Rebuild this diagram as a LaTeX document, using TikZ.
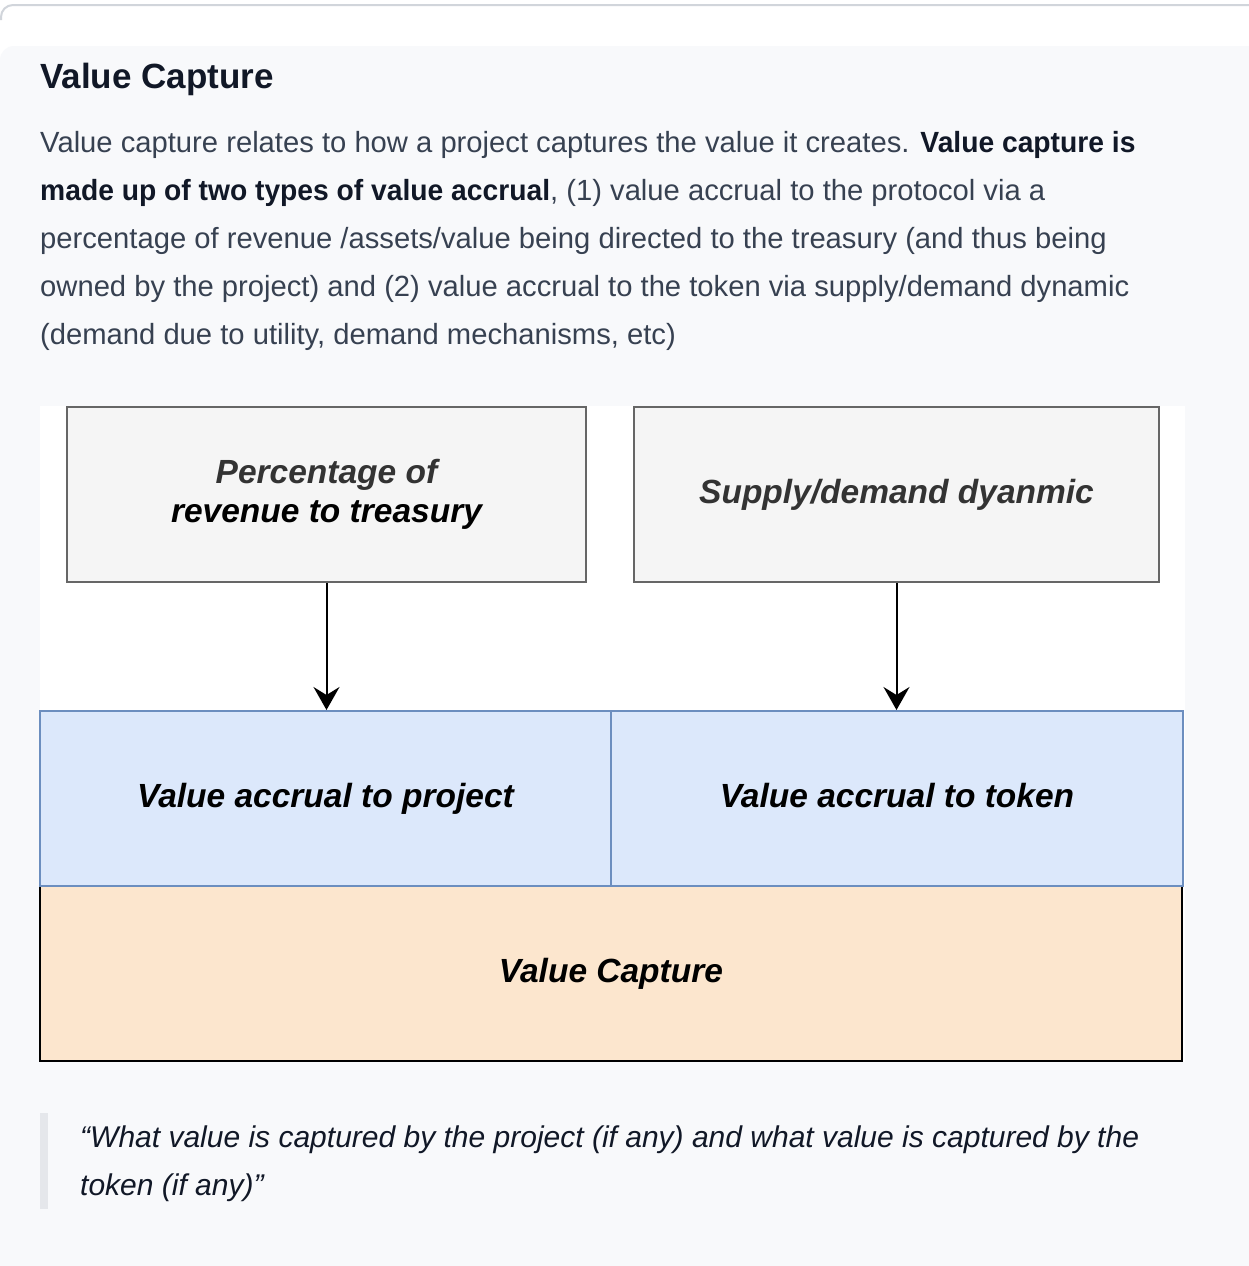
\documentclass[tikz,border=0pt]{standalone}
\usepackage{fontspec}
\setmainfont{Liberation Sans}
\usetikzlibrary{arrows.meta}
\definecolor{panelc}{HTML}{F8F9FB}
\definecolor{rulec}{HTML}{D1D5DB}
\definecolor{textc}{HTML}{374151}
\definecolor{darkc}{HTML}{111827}
\definecolor{barc}{HTML}{E5E7EB}
\definecolor{grayfill}{HTML}{F5F5F5}
\definecolor{graystroke}{HTML}{666666}
\definecolor{grayfont}{HTML}{333333}
\definecolor{bluefill}{HTML}{DCE8FB}
\definecolor{bluestroke}{HTML}{6C8EBF}
\definecolor{orangefill}{HTML}{FCE6CE}
\tikzset{
  para/.style={anchor=base west, inner sep=0pt, text=textc, font=\fontsize{29.2}{48}\selectfont},
  quote/.style={anchor=base west, inner sep=0pt, text=darkc, font=\fontsize{30}{48}\selectfont\itshape},
  dfont/.style={font=\fontsize{33.5}{38.5}\selectfont\bfseries\itshape},
  oneline/.style={text height=24pt, text depth=6pt},
  graybox/.style={draw=graystroke, fill=grayfill, line width=2pt, inner sep=0pt, text=grayfont, dfont, align=center},
  bluebox/.style={draw=bluestroke, fill=bluefill, line width=2pt, inner sep=0pt, text=black, dfont, oneline, minimum width=571pt, minimum height=175pt},
  orangebox/.style={draw=black, fill=orangefill, line width=2.5pt, inner sep=0pt, text=black, dfont, oneline},
  flow/.style={draw=black, line width=2pt, -{Stealth[length=23pt, width=26pt, inset=8pt]}}
}
\newcommand{\bdark}[1]{\scalebox{0.967}[1]{\textcolor{darkc}{\bfseries #1}}}
\begin{document}
\begin{tikzpicture}[x=1pt,y=-1pt]
\useasboundingbox (0,0) rectangle (1248,1266);
\fill[white] (0,0) rectangle (1248,1266);
% outer card border
\draw[rulec, line width=2pt, rounded corners=12pt] (1,20) -- (1,5) -- (1260,5);
% inner panel
\fill[panelc, rounded corners=14pt] (0,46) rectangle (1300,1320);
% title
\node[anchor=base west, inner sep=0pt, text=darkc, font=\fontsize{35}{40}\selectfont\bfseries] (title) at (40,88) {Value Capture};
% paragraph
\node[para] (l1) at (40,152) {Value capture relates to how a project captures the value it creates. \bdark{Value capture is}};
\node[para] (l2) at (40,200) {\bdark{made up of two types of value accrual}, (1) value accrual to the protocol via a};
\node[para] (l3) at (40,248) {percentage of revenue /assets/value being directed to the treasury (and thus being};
\node[para] (l4) at (40,296) {owned by the project) and (2) value accrual to the token via supply/demand dynamic};
\node[para] (l5) at (40,344) {(demand due to utility, demand mechanisms, etc)};
% diagram canvas
\fill[white] (40,406) rectangle (1185,1062);
\node[graybox, minimum width=519pt, minimum height=175pt] (pct) at (326.5,494.5) {Percentage of\\\textcolor{black}{revenue to treasury}};
\node[graybox, oneline, minimum width=525pt, minimum height=175pt] (sd) at (896.5,494.5) {Supply/demand dyanmic};
\node[orangebox, minimum width=1142pt, minimum height=175pt] (vc) at (611,973.5) {Value Capture};
\node[bluebox] (vp) at (325.5,798.5) {Value accrual to project};
\node[bluebox, minimum width=572pt] (vt) at (897,798.5) {Value accrual to token};
\draw[flow] (pct.south) -- (pct.south |- vp.north);
\draw[flow] (sd.south) -- (sd.south |- vt.north);
% blockquote
\fill[barc] (40,1113) rectangle (48,1209);
\node[quote] (q1) at (80,1147) {“What value is captured by the project (if any) and what value is captured by the};
\node[quote] (q2) at (80,1195) {token (if any)”};
\end{tikzpicture}
\end{document}
